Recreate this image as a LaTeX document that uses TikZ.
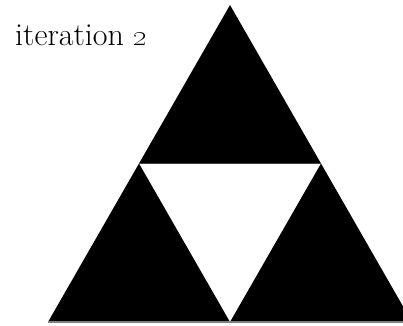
\documentclass[tikz,border=0pt]{standalone}
\usepackage{tikz}
\usetikzlibrary{calc}

\begin{document}
\begin{tikzpicture}[x=1pt, y=-1pt]
  \useasboundingbox (0,0) rectangle (403,325);
  \clip (0,0) rectangle (403,325);

  % Corners of the big triangle (side 364, equilateral)
  \coordinate (apex) at (230,5);
  \coordinate (botleft) at (48,322);
  \coordinate (botright) at (412,322);

  % Midpoints of the sides
  \coordinate (midleft) at ($(apex)!0.5!(botleft)$);
  \coordinate (midright) at ($(apex)!0.5!(botright)$);
  \coordinate (midbot) at ($(botleft)!0.5!(botright)$);

  % The three black triangles, the middle one left out
  \fill[black] (apex) -- (midleft) -- (midright) -- cycle;
  \fill[black] (midleft) -- (botleft) -- (midbot) -- cycle;
  \fill[black] (midright) -- (midbot) -- (botright) -- cycle;

  % Grey base edges
  \draw[darkgray, line width=1.6] (midleft) -- (midright);
  \draw[gray, line width=1.6] (botleft) -- (botright);

  % Label
  \node[anchor=base west, inner sep=0pt, font=\fontsize{32}{38}\selectfont]
    (label) at (15,45) {iteration \oldstylenums{2}};
\end{tikzpicture}
\end{document}
